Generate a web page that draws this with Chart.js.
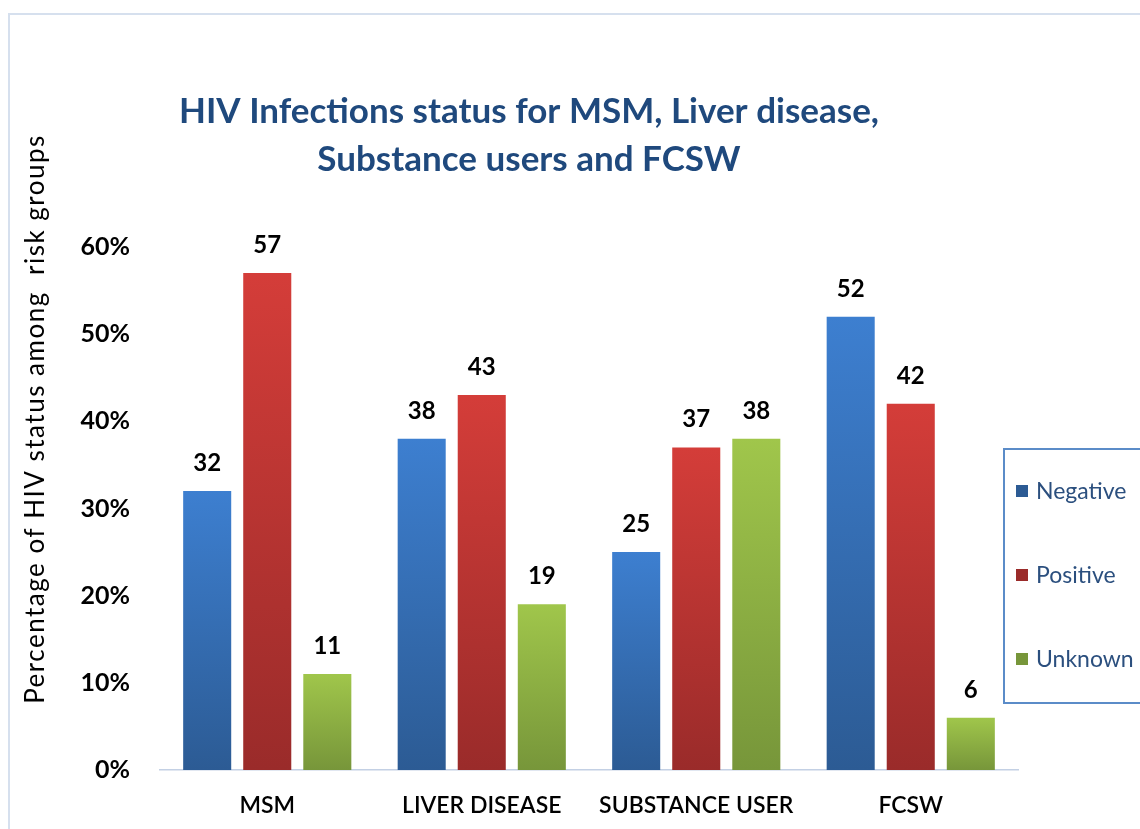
<!DOCTYPE html>
<html>
<head>
<meta charset="utf-8">
<script src="https://cdn.jsdelivr.net/npm/chart.js@4/dist/chart.umd.min.js"></script>
<style>
  html, body { margin: 0; padding: 0; background: #fff; }
  #wrap { position: relative; width: 1140px; height: 829px; }
</style>
</head>
<body>
<div id="wrap"><canvas id="hivChart" width="1140" height="829"></canvas></div>
<script>
// categories and series (percent)
const categories = ['MSM', 'LIVER DISEASE', 'SUBSTANCE USER', 'FCSW'];
const negativeValues = [32, 38, 25, 52];
const positiveValues = [57, 43, 37, 42];
const unknownValues = [11, 19, 38, 6];
const seriesNames = ['Negative', 'Positive', 'Unknown'];
const yTicks = [0, 10, 20, 30, 40, 50, 60];
const yAxisTitle = 'Percentage of HIV status among  risk groups';

const fontStack = "Lato, 'Open Sans', sans-serif";

// top / bottom colours of each bar gradient
const palette = {
  Negative: ['#3d7fd0', '#2c5b94'],
  Positive: ['#d43d39', '#9a2b2a'],
  Unknown: ['#a0c64b', '#77963a']
};

function barFill(name) {
  return function (ctx) {
    const chart = ctx.chart;
    const area = chart.chartArea;
    if (!area || ctx.raw === undefined) return palette[name][1];
    const top = chart.scales.y.getPixelForValue(ctx.raw);
    const g = chart.ctx.createLinearGradient(0, top, 0, area.bottom);
    g.addColorStop(0, palette[name][0]);
    g.addColorStop(1, palette[name][1]);
    return g;
  };
}

// value labels above each bar
const valueLabels = {
  id: 'valueLabels',
  afterDatasetsDraw(chart) {
    const ctx = chart.ctx;
    ctx.save();
    ctx.font = "bold 24px " + fontStack;
    ctx.fillStyle = '#000';
    ctx.textAlign = 'center';
    ctx.textBaseline = 'alphabetic';
    chart.data.datasets.forEach((ds, i) => {
      chart.getDatasetMeta(i).data.forEach((bar, j) => {
        ctx.fillText(String(ds.data[j]), bar.x, bar.y - 20);
      });
    });
    ctx.restore();
  }
};

// outer frame, rotated y title and boxed legend on the right
const frameAndLegend = {
  id: 'frameAndLegend',
  beforeDraw(chart) {
    const ctx = chart.ctx;
    ctx.save();
    ctx.strokeStyle = '#d6e0ee';
    ctx.lineWidth = 2;
    ctx.beginPath();
    ctx.moveTo(9, chart.height);
    ctx.lineTo(9, 14);
    ctx.lineTo(chart.width, 14);
    ctx.stroke();
    ctx.restore();
  },
  afterDraw(chart) {
    const ctx = chart.ctx;
    ctx.save();
    ctx.translate(36, 419);
    ctx.rotate(-Math.PI / 2);
    ctx.font = "26px " + fontStack;
    ctx.letterSpacing = '1.5px';
    ctx.fillStyle = '#000';
    ctx.textAlign = 'center';
    ctx.textBaseline = 'middle';
    ctx.fillText(yAxisTitle, 0, 0);
    ctx.restore();

    const left = 1004, top = 449, bottom = 703;
    ctx.save();
    ctx.strokeStyle = '#5b8cc8';
    ctx.lineWidth = 2;
    ctx.strokeRect(left, top, chart.width - left + 4, bottom - top);
    ctx.font = "23px " + fontStack;
    ctx.textBaseline = 'middle';
    chart.data.datasets.forEach((ds, i) => {
      const y = 491 + i * 84;
      ctx.fillStyle = palette[ds.label][1];
      ctx.fillRect(1016, y - 6, 12, 12);
      ctx.fillStyle = '#2b4f7e';
      ctx.fillText(ds.label, 1036, y + 1);
    });
    ctx.restore();
  }
};

const seriesData = [negativeValues, positiveValues, unknownValues];

new Chart(document.getElementById('hivChart'), {
  type: 'bar',
  data: {
    labels: categories,
    datasets: seriesNames.map((name, i) => ({
      label: name,
      data: seriesData[i],
      backgroundColor: barFill(name),
      borderWidth: 0,
      barPercentage: 0.8,
      categoryPercentage: 0.84
    }))
  },
  options: {
    responsive: false,
    animation: false,
    layout: { padding: { top: 88, right: 122, bottom: 9, left: 40 } },
    plugins: {
      legend: { display: false },
      tooltip: { enabled: false },
      title: {
        display: true,
        text: ['HIV Infections status for MSM, Liver disease,', 'Substance users and FCSW'],
        color: '#1f497d',
        font: { family: fontStack, size: 35, weight: 'bold', lineHeight: 1.37 },
        padding: { top: 0, bottom: 63 }
      }
    },
    scales: {
      x: {
        afterFit(scale) { scale.height = 50; },
        grid: { display: false, drawTicks: false, tickLength: 0 },
        border: { display: true, color: '#c3d0e4', width: 1.5 },
        ticks: {
          color: '#000',
          padding: 22,
          font: { family: fontStack, size: 23, weight: '600' }
        }
      },
      y: {
        min: 0,
        max: 60,
        afterBuildTicks(scale) {
          scale.ticks = yTicks.map(v => ({ value: v }));
        },
        afterFit(scale) { scale.width = 120; },
        grid: { display: false, drawTicks: false, tickLength: 0 },
        border: { display: false },
        ticks: {
          color: '#000',
          padding: 30,
          font: { family: fontStack, size: 25, weight: 'bold' },
          callback: v => v + '%'
        }
      }
    }
  },
  plugins: [valueLabels, frameAndLegend]
});
</script>
</body>
</html>
